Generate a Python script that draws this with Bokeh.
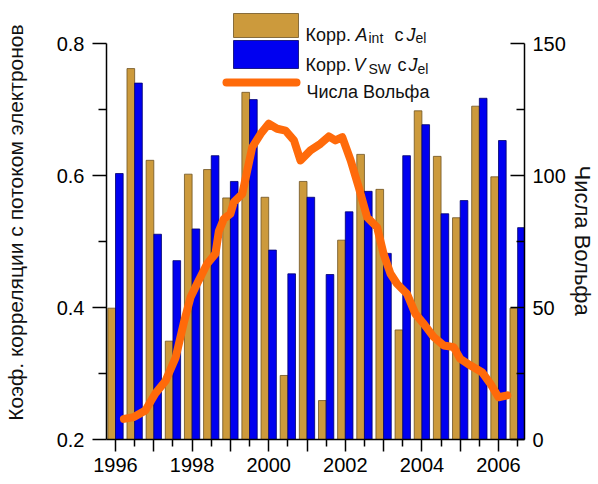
from bokeh.plotting import figure
from bokeh.models import LinearAxis, Range1d, FixedTicker, Label, Title
from bokeh.embed import file_html
from bokeh.resources import INLINE

# Half-year periods (start of each half-year interval)
periods = [1996.0, 1996.5, 1997.0, 1997.5, 1998.0, 1998.5, 1999.0, 1999.5,
           2000.0, 2000.5, 2001.0, 2001.5, 2002.0, 2002.5, 2003.0, 2003.5,
           2004.0, 2004.5, 2005.0, 2005.5, 2006.0, 2006.5]

# Correlation of A_int with electron flux J_el
corr_a_int = [0.399, 0.762, 0.623, 0.349, 0.602, 0.609, 0.566, 0.726,
              0.567, 0.297, 0.591, 0.259, 0.502, 0.632, 0.579, 0.366,
              0.698, 0.629, 0.536, 0.705, 0.598, 0.399]

# Correlation of V_SW with electron flux J_el
corr_v_sw = [0.603, 0.740, 0.511, 0.471, 0.519, 0.630, 0.591, 0.715,
             0.487, 0.451, 0.567, 0.450, 0.545, 0.576, 0.482, 0.630,
             0.677, 0.542, 0.562, 0.717, 0.653, 0.521]

# Smoothed Wolf (sunspot) numbers
wolf_years = [1996.22, 1996.48, 1996.78, 1997.04, 1997.31, 1997.57, 1997.78,
              1997.96, 1998.13, 1998.39, 1998.61, 1998.70, 1998.83, 1999.00,
              1999.09, 1999.31, 1999.44, 1999.57, 1999.79, 2000.00, 2000.22,
              2000.44, 2000.66, 2000.83, 2001.09, 2001.35, 2001.57, 2001.74,
              2001.92, 2002.14, 2002.35, 2002.57, 2002.83, 2003.00, 2003.18,
              2003.35, 2003.61, 2003.83, 2004.05, 2004.31, 2004.57, 2004.83,
              2005.00, 2005.27, 2005.57, 2005.79, 2006.00, 2006.23]
wolf_numbers = [7.8, 8.5, 11.0, 17.4, 22.3, 31.0, 44.0,
                53.9, 59.0, 66.5, 70.4, 79.0, 83.6, 85.5,
                89.9, 93.0, 101.9, 110.7, 115.8, 119.6, 117.7,
                117.0, 113.3, 105.7, 109.5, 112.0, 114.8, 113.3,
                114.5, 105.7, 95.6, 84.2, 80.4, 70.3, 62.8,
                59.0, 55.2, 47.6, 43.8, 38.8, 35.6, 35.0,
                30.6, 28.0, 25.5, 21.1, 16.0, 16.7]

year_ticks = [1996, 1997, 1998, 1999, 2000, 2001, 2002, 2003, 2004, 2005, 2006]
year_labels = {1996: "1996", 1997: "", 1998: "1998", 1999: "", 2000: "2000",
               2001: "", 2002: "2002", 2003: "", 2004: "2004", 2005: "",
               2006: "2006"}
corr_ticks = [0.2, 0.4, 0.6, 0.8]
wolf_ticks = [0, 50, 100, 150]

BROWN = "#CC9A3C"
BROWN_EDGE = "#6E5322"
BLUE = "#0000F0"
BLUE_EDGE = "#00006A"
ORANGE = "#FF6A0A"
FONT = "Liberation Sans"

W, H = 598, 484
FRAME_L, FRAME_R, FRAME_T, FRAME_B = 106, 524, 5, 439

# pixel <-> data helpers for the frame
PX_PER_YEAR = 38.3
X_AT_1996 = 115
PX_PER_UNIT = 660.0  # pixels per 1.0 of correlation


def px_x(px):
    return 1996 + (px - X_AT_1996) / PX_PER_YEAR


def px_y(py):
    return 0.2 + (FRAME_B - py) / PX_PER_UNIT


x0, x1 = px_x(FRAME_L), px_x(FRAME_R)
y_top = px_y(FRAME_T)
w_top = (y_top - 0.2) / 0.6 * 150

p = figure(width=W, height=H, output_backend="svg", toolbar_location=None,
           x_range=Range1d(x0, x1), y_range=Range1d(0.2, y_top),
           min_border_left=FRAME_L, min_border_right=W - FRAME_R,
           min_border_top=FRAME_T, min_border_bottom=H - FRAME_B)
p.extra_y_ranges = {"wolf": Range1d(0, w_top)}
p.outline_line_color = None
p.xgrid.visible = False
p.ygrid.visible = False
p.background_fill_color = "white"
p.border_fill_color = "white"

bar_w = 0.2
p.vbar(x=[t - bar_w / 2 for t in periods], top=corr_a_int, bottom=0.2,
       width=bar_w, fill_color=BROWN, line_color=BROWN_EDGE, line_width=0.8)
p.vbar(x=[t + bar_w / 2 for t in periods], top=corr_v_sw, bottom=0.2,
       width=bar_w, fill_color=BLUE, line_color=BLUE_EDGE, line_width=0.8)
p.line(wolf_years, wolf_numbers, y_range_name="wolf", line_color=ORANGE,
       line_width=8, line_join="round", line_cap="round")


def style_axis(ax, size="20px"):
    ax.axis_line_width = 1.5
    ax.axis_line_color = "black"
    ax.major_tick_line_width = 1.5
    ax.minor_tick_line_width = 1.5
    ax.major_tick_line_color = "black"
    ax.minor_tick_line_color = "black"
    ax.major_label_text_font = FONT
    ax.major_label_text_font_size = size
    ax.major_label_text_color = "black"
    ax.axis_label_text_font = FONT
    ax.axis_label_text_font_size = "21px"
    ax.axis_label_text_font_style = "normal"
    ax.axis_label_text_color = "#111111"


# bottom axis
xa = p.xaxis[0]
style_axis(xa)
xa.ticker = FixedTicker(ticks=year_ticks,
                        minor_ticks=[t + 0.5 for t in year_ticks[:-1]] + [2006.5])
xa.major_label_overrides = {k: v for k, v in year_labels.items()}
xa.major_tick_out = 12
xa.major_tick_in = 0
xa.minor_tick_out = 7
xa.minor_tick_in = 0
xa.major_label_standoff = 6

# left axis (correlation)
ya = p.yaxis[0]
style_axis(ya)
ya.bounds = (0.2, 0.8)
ya.ticker = FixedTicker(ticks=corr_ticks, minor_ticks=[0.3, 0.5, 0.7])
ya.major_tick_out = 14
ya.major_tick_in = 0
ya.minor_tick_out = 8
ya.minor_tick_in = 0
ya.major_label_standoff = 8

# outer left axis carrying only the title
title_axis = LinearAxis(ticker=FixedTicker(ticks=[]))
style_axis(title_axis)
title_axis.bounds = (px_y(FRAME_B), px_y(3))
title_axis.axis_line_color = None
title_axis.major_tick_line_color = None
title_axis.minor_tick_line_color = None
title_axis.axis_label = "Коэф. корреляции с потоком электронов"
title_axis.axis_label_standoff = 27
p.add_layout(title_axis, "left")

# right axis for Wolf numbers
ra = LinearAxis(y_range_name="wolf")
style_axis(ra)
ra.bounds = (0, 150)
ra.ticker = FixedTicker(ticks=wolf_ticks, minor_ticks=[25, 75, 125])
ra.major_tick_out = 0
ra.major_tick_in = 14
ra.minor_tick_out = 0
ra.minor_tick_in = 8
ra.major_label_standoff = 8
p.add_layout(ra, "right")

# right title, reading downward
p.add_layout(Title(text="Числа Вольфа", align="left", offset=160,
                   text_font=FONT, text_font_size="22px",
                   text_font_style="normal", text_color="#111111",
                   standoff=2), "right")

# legend: swatches
p.quad(left=[px_x(233)], right=[px_x(298)], top=[px_y(13)], bottom=[px_y(37)],
       fill_color=BROWN, line_color=BROWN_EDGE, line_width=0.8)
p.quad(left=[px_x(233)], right=[px_x(298)], top=[px_y(40)], bottom=[px_y(68)],
       fill_color=BLUE, line_color=BLUE_EDGE, line_width=0.8)
p.line([px_x(226), px_x(296)], [px_y(82), px_y(82)], line_color=ORANGE,
       line_width=8, line_cap="round")

# legend: texts (main text, italic symbols, subscripts)
legend_parts = [
    ("Корр.", 305, 34, "18px", "normal"),
    ("A", 355, 34, "18px", "italic"),
    ("int", 368, 37, "14px", "normal"),
    ("с", 394, 34, "18px", "normal"),
    ("J", 406, 34, "18px", "italic"),
    ("el", 415, 37, "14px", "normal"),
    ("Корр.", 305, 64.5, "18px", "normal"),
    ("V", 353, 64.5, "18px", "italic"),
    ("SW", 368, 68, "14px", "normal"),
    ("с", 397, 64.5, "18px", "normal"),
    ("J", 408, 64.5, "18px", "italic"),
    ("el", 417, 68, "14px", "normal"),
    ("Числа Вольфа", 306, 91, "18px", "normal"),
]
for txt, px, py, size, style in legend_parts:
    p.add_layout(Label(x=px_x(px), y=px_y(py), text=txt, text_align="left",
                       text_baseline="alphabetic", text_font=FONT,
                       text_font_size=size, text_font_style=style,
                       text_color="#111111"))

open("out.html", "w").write(file_html(p, INLINE))
